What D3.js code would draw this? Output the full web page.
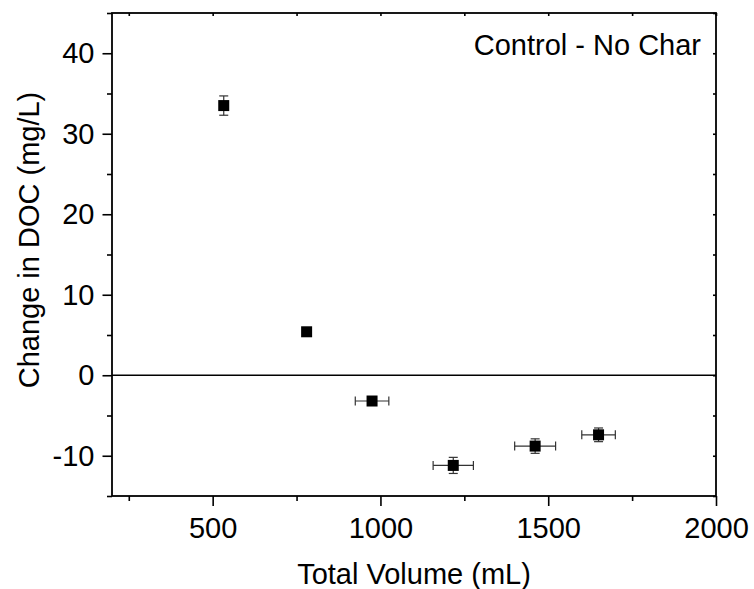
<!DOCTYPE html>
<html>
<head>
<meta charset="utf-8">
<script src="https://cdn.jsdelivr.net/npm/d3@7"></script>
<style>
  body { margin: 0; background: #fff; }
  text { font-family: "Liberation Sans", Arial, sans-serif; }
</style>
</head>
<body>
<div id="chart"></div>
<script>
// data
const volume = [533, 780, 975, 1217, 1461, 1650];
const docChange = [33.5, 5.4, -3.2, -11.2, -8.8, -7.4];
const volumeErr = [0, 0, 50, 60, 61, 50];
const docErr = [1.2, 0.3, 0.5, 1.0, 0.9, 0.85];

const xTicks = [500, 1000, 1500, 2000];
const xMinor = [250, 750, 1250, 1750];
const yTicks = [-10, 0, 10, 20, 30, 40];
const yMinor = [-15, -5, 5, 15, 25, 35, 45];

const W = 754, H = 589;
const margin = { top: 13, right: 38, bottom: 93, left: 112 };
const width = W - margin.left - margin.right;
const height = H - margin.top - margin.bottom;
const fontSize = "29px";

const svg = d3.select("#chart")
  .append("svg")
  .attr("width", W)
  .attr("height", H)
  .append("g")
  .attr("transform", `translate(${margin.left},${margin.top})`);

const x = d3.scaleLinear().domain([200, 2000]).range([0, width]);
const y = d3.scaleLinear().domain([-15, 45]).range([height, 0]);

function styleAxis(g) {
  g.select(".domain").remove();
  g.selectAll(".tick line").attr("stroke", "#000").attr("stroke-width", 1.6);
  g.selectAll(".tick text")
    .attr("fill", "#000")
    .style("font-size", fontSize)
    .style("font-family", "'Liberation Sans', Arial, sans-serif");
}

// bottom axis
svg.append("g")
  .attr("transform", `translate(0,${height})`)
  .call(d3.axisBottom(x).tickValues(xTicks).tickSize(10).tickPadding(11).tickFormat(d => String(d)))
  .call(styleAxis);
svg.append("g")
  .attr("transform", `translate(0,${height})`)
  .call(d3.axisBottom(x).tickValues(xMinor).tickSize(5).tickFormat(""))
  .call(styleAxis);

// left axis (hyphen minus like the original)
svg.append("g")
  .call(d3.axisLeft(y).tickValues(yTicks).tickSize(9.5).tickPadding(8).tickFormat(d => String(d)))
  .call(styleAxis);
svg.append("g")
  .call(d3.axisLeft(y).tickValues(yMinor).tickSize(5).tickFormat(""))
  .call(styleAxis);

// top + right: small inward ticks
svg.append("g")
  .call(d3.axisBottom(x).tickValues(xTicks.concat(xMinor)).tickSize(3).tickFormat(""))
  .call(styleAxis);
svg.append("g")
  .attr("transform", `translate(${width},0)`)
  .call(d3.axisLeft(y).tickValues(yTicks.concat(yMinor)).tickSize(3).tickFormat(""))
  .call(styleAxis);

// frame
svg.append("rect")
  .attr("width", width)
  .attr("height", height)
  .attr("fill", "none")
  .attr("stroke", "#000")
  .attr("stroke-width", 1.8);

// zero line
svg.append("line")
  .attr("x1", 0).attr("x2", width)
  .attr("y1", y(0)).attr("y2", y(0))
  .attr("stroke", "#000")
  .attr("stroke-width", 1.5);

const pts = volume.map((v, i) => ({ v: v, d: docChange[i], ve: volumeErr[i], de: docErr[i] }));
const cap = 4.5;

// error bars
const eb = svg.append("g").attr("stroke", "#333").attr("stroke-width", 1.2);
pts.forEach(p => {
  if (p.ve > 0) {
    eb.append("line").attr("x1", x(p.v - p.ve)).attr("x2", x(p.v + p.ve)).attr("y1", y(p.d)).attr("y2", y(p.d));
    eb.append("line").attr("x1", x(p.v - p.ve)).attr("x2", x(p.v - p.ve)).attr("y1", y(p.d) - cap).attr("y2", y(p.d) + cap);
    eb.append("line").attr("x1", x(p.v + p.ve)).attr("x2", x(p.v + p.ve)).attr("y1", y(p.d) - cap).attr("y2", y(p.d) + cap);
  }
  if (p.de > 0) {
    eb.append("line").attr("x1", x(p.v)).attr("x2", x(p.v)).attr("y1", y(p.d - p.de)).attr("y2", y(p.d + p.de));
    eb.append("line").attr("x1", x(p.v) - cap).attr("x2", x(p.v) + cap).attr("y1", y(p.d - p.de)).attr("y2", y(p.d - p.de));
    eb.append("line").attr("x1", x(p.v) - cap).attr("x2", x(p.v) + cap).attr("y1", y(p.d + p.de)).attr("y2", y(p.d + p.de));
  }
});

// markers
const size = 11;
svg.selectAll(".pt")
  .data(pts)
  .enter()
  .append("rect")
  .attr("class", "pt")
  .attr("x", d => x(d.v) - size / 2)
  .attr("y", d => y(d.d) - size / 2)
  .attr("width", size)
  .attr("height", size)
  .attr("fill", "#000");

// labels
svg.append("text")
  .attr("x", width - 15)
  .attr("y", 42)
  .attr("text-anchor", "end")
  .style("font-size", fontSize)
  .text("Control - No Char");

svg.append("text")
  .attr("x", width / 2)
  .attr("y", height + 88)
  .attr("text-anchor", "middle")
  .style("font-size", fontSize)
  .text("Total Volume (mL)");

svg.append("text")
  .attr("transform", "rotate(-90)")
  .attr("x", -227)
  .attr("y", 39 - margin.left)
  .attr("text-anchor", "middle")
  .style("font-size", fontSize)
  .text("Change in DOC (mg/L)");
</script>
</body>
</html>
